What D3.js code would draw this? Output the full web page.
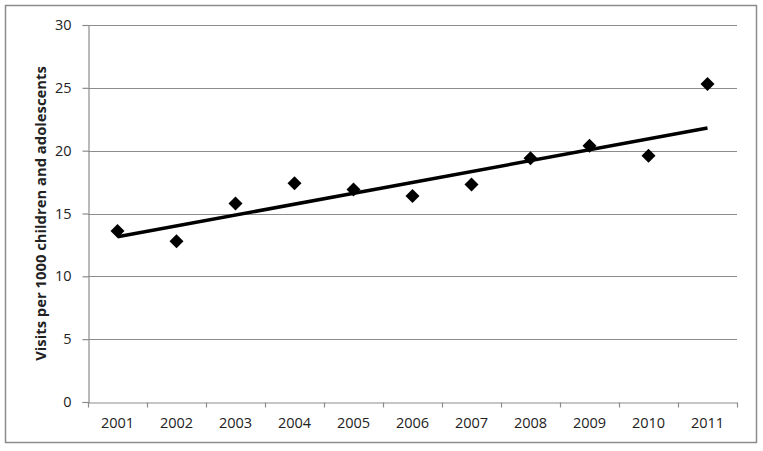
<!DOCTYPE html>
<html>
<head>
<meta charset="utf-8">
<script src="https://cdn.jsdelivr.net/npm/d3@7"></script>
<style>
	body { margin: 0; background: #fff; }
	text { font-family: "Open Sans", Lato, sans-serif; fill: #222; }
</style>
</head>
<body>
<div id="chart"></div>
<script>
var years = ['2001', '2002', '2003', '2004', '2005', '2006', '2007', '2008', '2009', '2010', '2011'];
var visits = [13.6, 12.8, 15.8, 17.4, 16.9, 16.4, 17.3, 19.4, 20.4, 19.6, 25.3];
var trendEnds = [13.15, 21.8];
var yTicks = [0, 5, 10, 15, 20, 25, 30];
var yTitle = 'Visits per 1000 children and adolescents';

var width = 763,
	height = 451,
	margin = {
		left: 88,
		top: 25,
		right: 26,
		bottom: 49
	};

var svg = d3.select('#chart').append('svg')
	.attr('width', width)
	.attr('height', height);

// outer frame
svg.append('rect')
	.attr('x', 5.5)
	.attr('y', 5.5)
	.attr('width', 751)
	.attr('height', 437)
	.attr('fill', 'none')
	.attr('stroke', '#8c8c8c')
	.attr('stroke-width', 1.5);

var x = d3.scaleBand()
	.domain(years)
	.range([margin.left, width - margin.right]);

var y = d3.scaleLinear()
	.domain([0, 30])
	.range([height - margin.bottom, margin.top]);

// gridlines
svg.append('g')
	.selectAll('line')
	.data(yTicks.slice(1))
	.enter().append('line')
	.attr('x1', margin.left)
	.attr('x2', width - margin.right)
	.attr('y1', function(d) { return Math.round(y(d)) + 0.5; })
	.attr('y2', function(d) { return Math.round(y(d)) + 0.5; })
	.attr('stroke', '#8c8c8c')
	.attr('stroke-width', 1.2);

var yAxis = svg.append('g')
	.attr('transform', 'translate(' + (margin.left + 0.5) + ',0)')
	.call(d3.axisLeft(y).tickValues(yTicks).tickSize(6).tickPadding(11));

var xAxis = svg.append('g')
	.attr('transform', 'translate(0,' + (Math.round(y(0)) + 0.5) + ')')
	.call(d3.axisBottom(x).tickSize(0).tickPadding(15));

// category boundary ticks
xAxis.selectAll('.bound')
	.data(years.concat(['end']))
	.enter().append('line')
	.attr('class', 'bound')
	.attr('x1', function(d, i) { return Math.round(margin.left + i * x.bandwidth()) + 0.5; })
	.attr('x2', function(d, i) { return Math.round(margin.left + i * x.bandwidth()) + 0.5; })
	.attr('y1', 0)
	.attr('y2', 5)
	.attr('stroke', '#8c8c8c')
	.attr('stroke-width', 1.2);

[yAxis, xAxis].forEach(function(a) {
	a.select('.domain').attr('stroke', '#8c8c8c').attr('stroke-width', 1.2);
	a.selectAll('.tick line').attr('stroke', '#8c8c8c').attr('stroke-width', 1.2);
	a.selectAll('text')
		.style('font-family', '"Open Sans", Lato, sans-serif')
		.style('font-size', '14.5px')
		.attr('fill', '#222');
});

// trendline
svg.append('line')
	.attr('x1', x(years[0]) + x.bandwidth() / 2)
	.attr('x2', x(years[years.length - 1]) + x.bandwidth() / 2)
	.attr('y1', y(trendEnds[0]))
	.attr('y2', y(trendEnds[1]))
	.attr('stroke', '#000')
	.attr('stroke-width', 3.5);

// markers
svg.append('g')
	.selectAll('path')
	.data(visits)
	.enter().append('path')
	.attr('d', 'M0,-7L7,0L0,7L-7,0Z')
	.attr('transform', function(d, i) {
		return 'translate(' + (x(years[i]) + x.bandwidth() / 2) + ',' + y(d) + ')';
	})
	.attr('fill', '#000');

// y title
svg.append('text')
	.attr('transform', 'translate(46,' + ((y(0) + y(30)) / 2) + ') rotate(-90)')
	.attr('text-anchor', 'middle')
	.style('font-size', '14.8px')
	.style('font-weight', 'bold')
	.text(yTitle);
</script>
</body>
</html>
